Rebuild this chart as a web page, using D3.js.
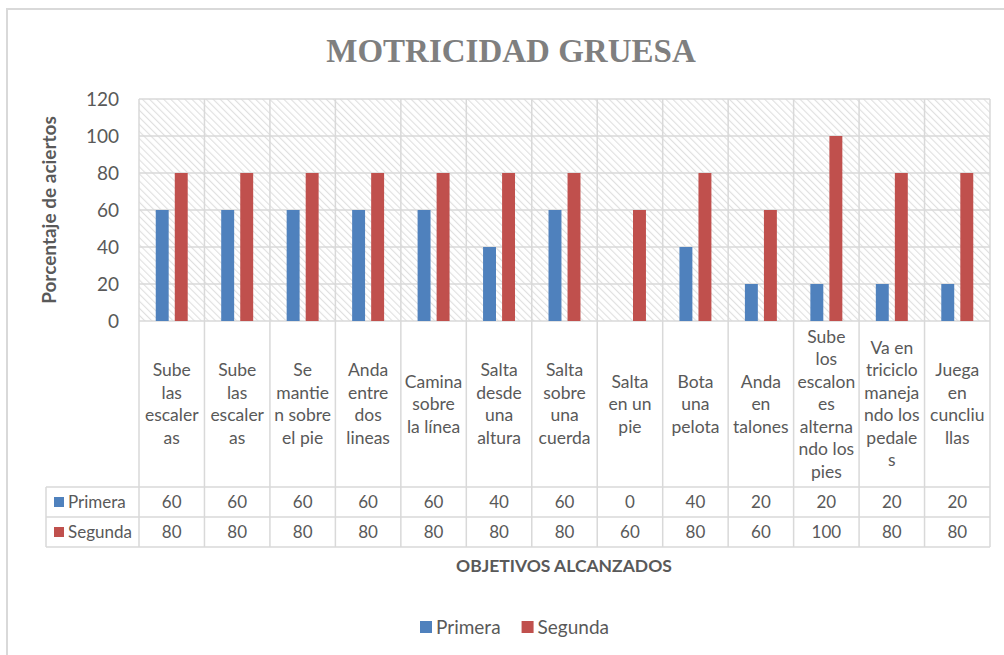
<!DOCTYPE html>
<html>
<head>
<meta charset="utf-8">
<script src="https://cdn.jsdelivr.net/npm/d3@7"></script>
<style>
  body { margin: 0; background: #fff; }
  text { font-family: Lato, "Open Sans", sans-serif; fill: #595959; }
</style>
</head>
<body>
<div id="chart"></div>
<script>
// datos del gráfico
const categorias = [
  ["Sube", "las", "escaler", "as"],
  ["Sube", "las", "escaler", "as"],
  ["Se", "mantie", "n sobre", "el pie"],
  ["Anda", "entre", "dos", "lineas"],
  ["Camina", "sobre", "la línea"],
  ["Salta", "desde", "una", "altura"],
  ["Salta", "sobre", "una", "cuerda"],
  ["Salta", "en un", "pie"],
  ["Bota", "una", "pelota"],
  ["Anda", "en", "talones"],
  ["Sube", "los", "escalon", "es", "alterna", "ndo los", "pies"],
  ["Va en", "triciclo", "maneja", "ndo los", "pedale", "s"],
  ["Juega", "en", "cuncliu", "llas"]
];
const primera = [60, 60, 60, 60, 60, 40, 60, 0, 40, 20, 20, 20, 20];
const segunda = [80, 80, 80, 80, 80, 80, 80, 60, 80, 60, 100, 80, 80];
const series = ["Primera", "Segunda"];
const colores = ["#4F81BD", "#C0504D"];
const ticksY = [0, 20, 40, 60, 80, 100, 120];

const W = 1004, H = 655;
const plot = { left: 139, right: 990, top: 99, bottom: 321 };
const tabla = { left: 46, labelsBottom: 487, rowH: 30 };
const grid = "#d9d9d9";

const svg = d3.select("#chart").append("svg")
  .attr("width", W).attr("height", H);

// motivo rayado del fondo
const defs = svg.append("defs");
const pat = defs.append("pattern")
  .attr("id", "rayas").attr("patternUnits", "userSpaceOnUse")
  .attr("width", 5).attr("height", 5)
  .attr("patternTransform", "rotate(-45)");
pat.append("rect").attr("width", 5).attr("height", 5).attr("fill", "#fff");
pat.append("line").attr("x1", 0).attr("y1", 0).attr("x2", 0).attr("y2", 5)
  .attr("stroke", "#e0e0e0").attr("stroke-width", 2.2);

// marco exterior
svg.append("rect").attr("x", 7).attr("y", 9).attr("width", 1010).attr("height", 670)
  .attr("fill", "#fff").attr("stroke", "#d9d9d9").attr("stroke-width", 2);

// escalas
const x = d3.scaleBand().domain(d3.range(categorias.length))
  .range([plot.left, plot.right]);
const xs = d3.scaleBand().domain(series).range([0, x.bandwidth()])
  .paddingInner(0.32).paddingOuter(0.88);
const y = d3.scaleLinear().domain([0, 120]).range([plot.bottom, plot.top]);

svg.append("rect").attr("x", plot.left).attr("y", plot.top)
  .attr("width", plot.right - plot.left).attr("height", plot.bottom - plot.top)
  .attr("fill", "url(#rayas)");

// lineas de cuadricula horizontales
svg.append("g").selectAll("line").data(ticksY).join("line")
  .attr("x1", plot.left).attr("x2", plot.right)
  .attr("y1", d => y(d)).attr("y2", d => y(d))
  .attr("stroke", grid).attr("stroke-width", 1.5);

const tablaBottom = tabla.labelsBottom + 2 * tabla.rowH;

// lineas verticales (plot + tabla)
const bordes = d3.range(categorias.length + 1).map(i => plot.left + i * x.bandwidth());
svg.append("g").selectAll("line").data(bordes).join("line")
  .attr("x1", d => d).attr("x2", d => d)
  .attr("y1", plot.top).attr("y2", tablaBottom)
  .attr("stroke", grid).attr("stroke-width", 1.5);

// lineas horizontales de la tabla
[tabla.labelsBottom, tabla.labelsBottom + tabla.rowH, tablaBottom].forEach(yy => {
  svg.append("line").attr("x1", tabla.left).attr("x2", plot.right)
    .attr("y1", yy).attr("y2", yy).attr("stroke", grid).attr("stroke-width", 1.5);
});
svg.append("line").attr("x1", tabla.left).attr("x2", tabla.left)
  .attr("y1", tabla.labelsBottom).attr("y2", tablaBottom)
  .attr("stroke", grid).attr("stroke-width", 1.5);

// barras
const datos = [primera, segunda];
series.forEach((s, si) => {
  svg.append("g").selectAll("rect").data(datos[si]).join("rect")
    .attr("x", (d, i) => x(i) + xs(s))
    .attr("width", xs.bandwidth())
    .attr("y", d => y(d))
    .attr("height", d => y(0) - y(d))
    .attr("fill", colores[si]);
});

// eje Y
const ejeY = d3.axisLeft(y).tickValues(ticksY).tickSize(0).tickPadding(20);
const gy = svg.append("g").attr("transform", `translate(${plot.left},0)`).call(ejeY);
gy.select(".domain").remove();
gy.selectAll("text").style("font-size", "19px").style("fill", "#595959")
  .style("font-family", "Lato, sans-serif");

// etiquetas de categorías
const lh = 22.5;
const midLabels = (plot.bottom + tabla.labelsBottom) / 2;
categorias.forEach((lineas, i) => {
  const t = svg.append("text").attr("text-anchor", "middle")
    .style("font-size", "17.5px");
  const y0 = midLabels - (lineas.length - 1) * lh / 2;
  lineas.forEach((l, k) => {
    t.append("tspan").attr("x", x(i) + x.bandwidth() / 2)
      .attr("y", y0 + k * lh).attr("dy", "0.35em").text(l);
  });
});

// filas de la tabla
series.forEach((s, si) => {
  const cy = tabla.labelsBottom + si * tabla.rowH + tabla.rowH / 2;
  svg.append("rect").attr("x", 54).attr("y", cy - 5).attr("width", 10).attr("height", 10)
    .attr("fill", colores[si]);
  svg.append("text").attr("x", 68).attr("y", cy).attr("dy", "0.35em")
    .style("font-size", "17px").text(s);
  svg.append("g").selectAll("text").data(datos[si]).join("text")
    .attr("x", (d, i) => x(i) + x.bandwidth() / 2).attr("y", cy).attr("dy", "0.35em")
    .attr("text-anchor", "middle").style("font-size", "17px").text(d => d);
});

// títulos
svg.append("text").attr("x", 511).attr("y", 62).attr("text-anchor", "middle")
  .style("font-family", "'Liberation Serif', serif").style("font-weight", "bold")
  .style("font-size", "33px").style("fill", "#7f7f7f").text("MOTRICIDAD GRUESA");

svg.append("text").attr("transform", `translate(49,${(plot.top + plot.bottom) / 2}) rotate(-90)`)
  .attr("text-anchor", "middle").attr("dy", "0.35em")
  .style("font-weight", "bold").style("font-size", "19px").text("Porcentaje de aciertos");

svg.append("text").attr("x", 564).attr("y", 566).attr("text-anchor", "middle").attr("dy", "0.35em")
  .style("font-weight", "bold").style("font-size", "17.5px").text("OBJETIVOS ALCANZADOS");

// leyenda
const leyenda = svg.append("g").attr("transform", "translate(420,627)");
let lx = 0;
series.forEach((s, si) => {
  leyenda.append("rect").attr("x", lx).attr("y", -6).attr("width", 12).attr("height", 12)
    .attr("fill", colores[si]);
  const tt = leyenda.append("text").attr("x", lx + 16).attr("y", 0).attr("dy", "0.35em")
    .style("font-size", "19px").text(s);
  lx += 16 + tt.node().getComputedTextLength() + 21;
});
</script>
</body>
</html>
